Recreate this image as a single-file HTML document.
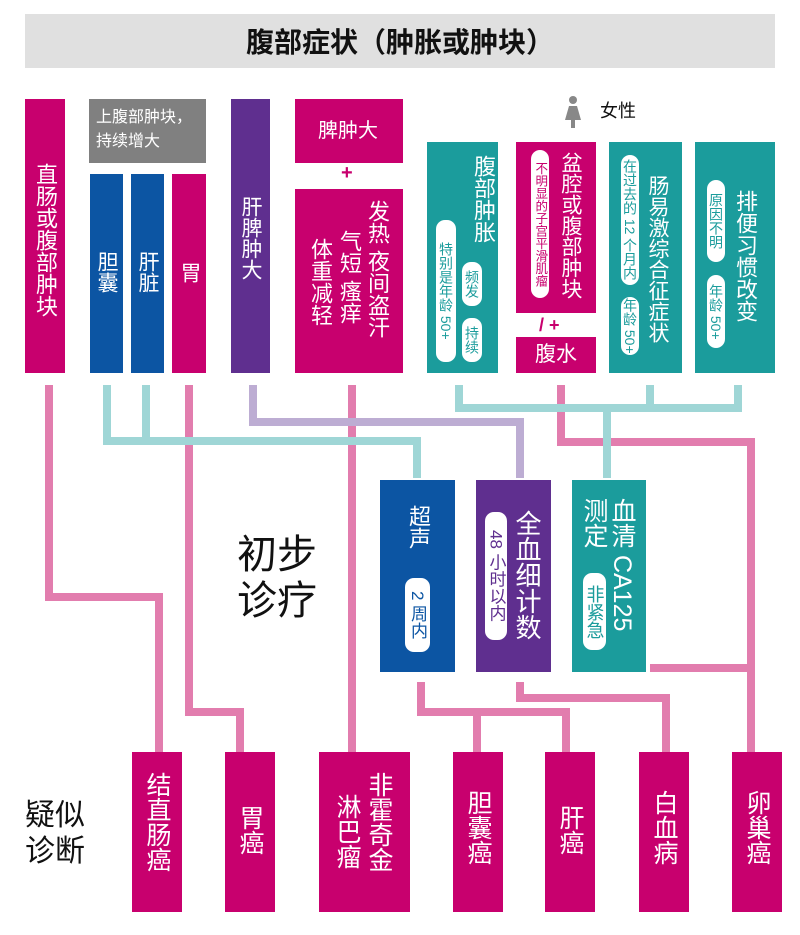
<!DOCTYPE html>
<html><head><meta charset="utf-8">
<style>
body{margin:0;background:#fff;}
#c{position:relative;width:800px;height:935px;overflow:hidden;background:#fff;font-family:"Liberation Sans","Noto Sans CJK SC",sans-serif;}
.b{position:absolute;}
.m{background:#c8006e;}
.bl{background:#0c55a3;}
.pu{background:#5f2f8f;}
.te{background:#1b9c9c;}
.g{background:#808080;}
.t{position:absolute;writing-mode:vertical-rl;color:#fff;line-height:1;white-space:nowrap;}
.p{position:absolute;background:#fff;border-radius:9px;writing-mode:vertical-rl;display:flex;align-items:center;justify-content:center;line-height:1;white-space:nowrap;}
.h{position:absolute;color:#fff;line-height:1;white-space:nowrap;}
svg{position:absolute;left:0;top:0;}
</style></head><body>
<div id="c">
<svg width="800" height="935" fill="none" stroke-width="8">
 <g stroke="#e27dae">
  <polyline points="49,385 49,597 159,597 159,752"/>
  <polyline points="189,385 189,712 240,712 240,752"/>
  <polyline points="352,385 352,752"/>
  <polyline points="561,385 561,442 751,442 751,752"/>
  <polyline points="650,668 751,668"/>
  <polyline points="421,682 421,712 566,712 566,752"/>
  <polyline points="477,712 477,752"/>
  <polyline points="520,682 520,698 666,698 666,752"/>
 </g>
 <g stroke="#9fd6d6">
  <polyline points="107,385 107,441 417,441 417,478"/>
  <polyline points="146,385 146,441"/>
  <polyline points="459,385 459,408 738,408 738,385"/>
  <polyline points="650,385 650,408"/>
  <polyline points="607,408 607,478"/>
 </g>
 <g stroke="#bdadd3">
  <polyline points="253,385 253,422 520,422 520,478"/>
 </g>
</svg>

<div class="b" style="left:25px;top:14px;width:750px;height:54px;background:#e0e0e0;display:flex;align-items:center;justify-content:center;font-size:28px;font-weight:bold;color:#111;">腹部症状（肿胀或肿块）</div>

<div class="b m" style="left:25px;top:99px;width:40px;height:274px;"></div>
<div class="t" style="left:34px;top:163px;font-size:22px;">直肠或腹部肿块</div>

<div class="b g" style="left:89px;top:99px;width:117px;height:64px;"></div>
<div class="h" style="left:96px;top:106px;font-size:16px;line-height:24px;">上腹部肿块，<br>持续增大</div>

<div class="b bl" style="left:90px;top:174px;width:33px;height:199px;"></div>
<div class="t" style="left:96px;top:251px;font-size:21px;">胆囊</div>
<div class="b bl" style="left:131px;top:174px;width:33px;height:199px;"></div>
<div class="t" style="left:137px;top:251px;font-size:21px;">肝脏</div>
<div class="b m" style="left:172px;top:174px;width:34px;height:199px;"></div>
<div class="t" style="left:179px;top:262px;font-size:21px;">胃</div>

<div class="b pu" style="left:231px;top:99px;width:39px;height:274px;"></div>
<div class="t" style="left:240px;top:196px;font-size:21px;">肝脾肿大</div>

<div class="b m" style="left:295px;top:99px;width:108px;height:64px;"></div>
<div class="h" style="left:318px;top:121px;font-size:20px;">脾肿大</div>
<div class="h" style="left:341px;top:163px;font-size:20px;color:#c8006e;font-weight:bold;">+</div>
<div class="b m" style="left:295px;top:189px;width:108px;height:184px;"></div>
<div class="t" style="left:366px;top:200px;font-size:22px;">发热 夜间盗汗</div>
<div class="t" style="left:338px;top:230px;font-size:22px;">气短 瘙痒</div>
<div class="t" style="left:309px;top:238px;font-size:22px;">体重减轻</div>

<svg width="800" height="935" style="pointer-events:none">
 <circle cx="573" cy="100" r="4" fill="#888"/>
 <polygon points="569,106 577,106 581,120 575,120 575,128 571,128 571,120 565,120" fill="#888"/>
</svg>
<div class="h" style="left:600px;top:102px;font-size:18px;color:#111;">女性</div>

<div class="b te" style="left:427px;top:142px;width:71px;height:231px;"></div>
<div class="t" style="left:472px;top:155px;font-size:22px;">腹部肿胀</div>
<div class="p" style="left:436px;top:220px;width:20px;height:142px;font-size:14px;color:#1b9c9c;">特别是年龄 50+</div>
<div class="p" style="left:462px;top:262px;width:20px;height:44px;font-size:14px;color:#1b9c9c;">频发</div>
<div class="p" style="left:462px;top:318px;width:20px;height:44px;font-size:14px;color:#1b9c9c;">持续</div>

<div class="b m" style="left:516px;top:142px;width:80px;height:171px;"></div>
<div class="p" style="left:531px;top:150px;width:18px;height:148px;font-size:12.5px;color:#c8006e;">不明显的子宫平滑肌瘤</div>
<div class="t" style="left:560px;top:152px;font-size:21px;">盆腔或腹部肿块</div>
<div class="h" style="left:539px;top:316px;font-size:18px;color:#c8006e;font-weight:bold;">/ +</div>
<div class="b m" style="left:516px;top:337px;width:80px;height:36px;"></div>
<div class="h" style="left:535px;top:344px;font-size:21px;">腹水</div>

<div class="b te" style="left:609px;top:142px;width:73px;height:231px;"></div>
<div class="p" style="left:621px;top:155px;width:18px;height:130px;font-size:14px;color:#1b9c9c;">在过去的 12 个月内</div>
<div class="p" style="left:621px;top:297px;width:18px;height:58px;font-size:14px;color:#1b9c9c;">年龄 50+</div>
<div class="t" style="left:647px;top:175px;font-size:21px;">肠易激综合征症状</div>

<div class="b te" style="left:695px;top:142px;width:80px;height:231px;"></div>
<div class="p" style="left:707px;top:180px;width:18px;height:82px;font-size:14px;color:#1b9c9c;">原因不明</div>
<div class="p" style="left:707px;top:275px;width:18px;height:73px;font-size:14px;color:#1b9c9c;">年龄 50+</div>
<div class="t" style="left:734px;top:190px;font-size:22px;">排便习惯改变</div>

<div class="h" style="left:237px;top:532px;font-size:40px;color:#111;line-height:46px;">初步<br>诊疗</div>

<div class="b bl" style="left:380px;top:480px;width:75px;height:192px;"></div>
<div class="t" style="left:407px;top:505px;font-size:22px;">超声</div>
<div class="p" style="left:405px;top:578px;width:25px;height:74px;font-size:17px;color:#0c55a3;">2 周内</div>

<div class="b pu" style="left:476px;top:480px;width:75px;height:192px;"></div>
<div class="p" style="left:485px;top:512px;width:22px;height:128px;font-size:17px;color:#5f2f8f;">48 小时以内</div>
<div class="t" style="left:514px;top:510px;font-size:26px;">全血细计数</div>

<div class="b te" style="left:572px;top:480px;width:74px;height:192px;"></div>
<div class="t" style="left:609px;top:498px;font-size:25px;">血清 CA125</div>
<div class="t" style="left:581px;top:498px;font-size:25px;">测定</div>
<div class="p" style="left:583px;top:573px;width:23px;height:77px;font-size:18px;color:#1b9c9c;">非紧急</div>

<div class="h" style="left:25px;top:798px;font-size:30px;color:#111;line-height:36px;">疑似<br>诊断</div>

<div class="b m" style="left:132px;top:752px;width:50px;height:160px;"></div>
<div class="t" style="left:144px;top:772px;font-size:25px;">结直肠癌</div>
<div class="b m" style="left:225px;top:752px;width:50px;height:160px;"></div>
<div class="t" style="left:237px;top:805px;font-size:25px;">胃癌</div>
<div class="b m" style="left:319px;top:752px;width:91px;height:160px;"></div>
<div class="t" style="left:366px;top:772px;font-size:25px;">非霍奇金</div>
<div class="t" style="left:334px;top:794px;font-size:25px;">淋巴瘤</div>
<div class="b m" style="left:453px;top:752px;width:50px;height:160px;"></div>
<div class="t" style="left:465px;top:790px;font-size:25px;">胆囊癌</div>
<div class="b m" style="left:545px;top:752px;width:50px;height:160px;"></div>
<div class="t" style="left:557px;top:805px;font-size:25px;">肝癌</div>
<div class="b m" style="left:639px;top:752px;width:50px;height:160px;"></div>
<div class="t" style="left:651px;top:790px;font-size:25px;">白血病</div>
<div class="b m" style="left:732px;top:752px;width:50px;height:160px;"></div>
<div class="t" style="left:744px;top:790px;font-size:25px;">卵巢癌</div>
</div>
</body></html>
